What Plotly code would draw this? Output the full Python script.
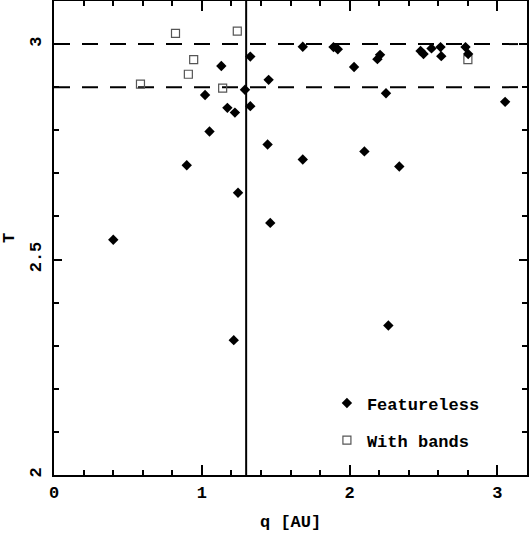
import plotly.graph_objects as go

# Featureless objects (filled diamonds)
featureless_q = [0.401, 0.898, 1.022, 1.052, 1.132, 1.173, 1.216, 1.224, 1.245, 1.292,
                 1.328, 1.328, 1.445, 1.452, 1.463, 1.683, 1.683, 1.891, 1.920, 2.030,
                 2.100, 2.188, 2.206, 2.246, 2.262, 2.336, 2.480, 2.500, 2.554, 2.615,
                 2.620, 2.784, 2.802, 3.052]
featureless_T = [2.546, 2.719, 2.882, 2.797, 2.949, 2.852, 2.313, 2.841, 2.655, 2.894,
                 2.971, 2.856, 2.767, 2.917, 2.585, 2.994, 2.732, 2.993, 2.988, 2.947,
                 2.751, 2.965, 2.975, 2.886, 2.347, 2.716, 2.984, 2.977, 2.990, 2.993,
                 2.972, 2.993, 2.977, 2.866]

# Objects with bands (open squares)
bands_q = [0.585, 0.822, 0.909, 0.945, 1.141, 1.240, 2.800]
bands_T = [2.907, 3.025, 2.930, 2.964, 2.898, 3.030, 2.964]

# Reference lines
hlines_T = [3.0, 2.9]
vline_q = [1.3]

x_range = [0, 3.2]
y_range = [2, 3.1]
x_ticks = [0, 1, 2, 3]
y_ticks = [2, 2.5, 3]
y_ticklabels = ["2", "2.5", "3"]

FONT = "Liberation Mono"
TFONT = dict(family=FONT, size=17, color="black", weight="bold")

fig = go.Figure()

fig.add_trace(go.Scatter(
    x=bands_q, y=bands_T, mode="markers", name="With bands",
    marker=dict(symbol="square-open", size=8, color="#555555", line=dict(width=1.2, color="#555555")),
    legendrank=2, legendgroup="bands",
))
fig.add_trace(go.Scatter(
    x=featureless_q, y=featureless_T, mode="markers", name="Featureless",
    marker=dict(symbol="diamond", size=8, color="black", line=dict(width=0)),
    legendrank=1, legendgroup="featureless",
))

for t in hlines_T:
    fig.add_shape(type="line", xref="paper", x0=0, x1=1, yref="y", y0=t, y1=t,
                  line=dict(color="black", width=2, dash="16px,12px"), layer="below")
for q in vline_q:
    fig.add_shape(type="line", xref="x", x0=q, x1=q, yref="paper", y0=0, y1=1,
                  line=dict(color="black", width=2), layer="below")

axis_common = dict(
    showgrid=False, zeroline=False, showline=True, linecolor="black", linewidth=2,
    mirror="ticks", ticks="inside", tickcolor="black", tickwidth=2,
    tickfont=TFONT, automargin=False,
)

fig.update_xaxes(
    range=x_range, tickvals=x_ticks, ticklen=10,
    minor=dict(dtick=0.2, ticklen=5, tickwidth=2, tickcolor="black", ticks="inside"),
    ticklabelstandoff=1,
    **axis_common,
)
fig.update_yaxes(
    range=y_range, tickvals=y_ticks, ticktext=y_ticklabels, ticklen=8, tickangle=-90,
    minor=dict(dtick=0.1, ticklen=5, tickwidth=2, tickcolor="black", ticks="inside"),
    ticklabelstandoff=4,
    **axis_common,
)

fig.add_annotation(text="q [AU]", xref="paper", yref="paper", x=0.5, y=-0.101,
                   xanchor="center", yanchor="middle", showarrow=False, font=TFONT)
fig.add_annotation(text="T", xref="paper", yref="paper", x=-0.095, y=0.5,
                   xanchor="center", yanchor="middle", showarrow=False, font=TFONT,
                   textangle=-90)

fig.update_layout(
    width=530, height=541,
    margin=dict(l=54, r=3, t=1, b=66),
    plot_bgcolor="white", paper_bgcolor="white",
    showlegend=True,
    legend=dict(
        x=0.577, y=0.189, xanchor="left", yanchor="top",
        bgcolor="rgba(0,0,0,0)", borderwidth=0,
        font=TFONT,
        itemwidth=30, tracegroupgap=12, traceorder="grouped",
    ),
)

fig.write_html("out.html", config={"displayModeBar": False},
               post_script="document.body.style.margin='0';")
